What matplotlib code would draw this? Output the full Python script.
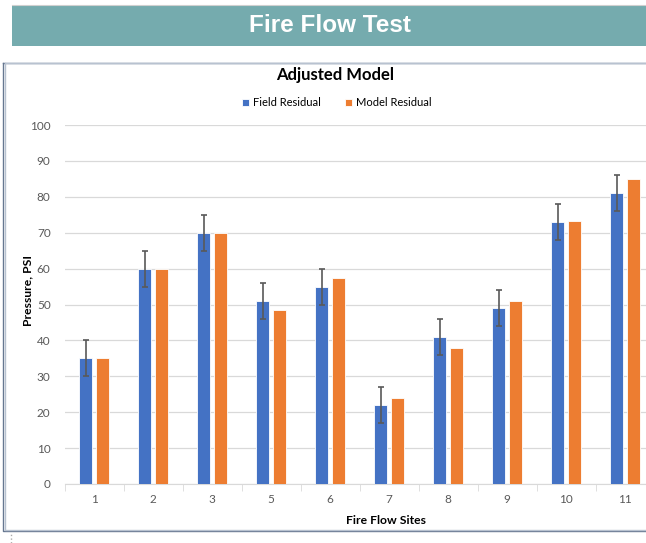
import matplotlib.pyplot as plt
import numpy as np
from matplotlib.patches import Rectangle
from matplotlib.lines import Line2D

sites = ['1', '2', '3', '5', '6', '7', '8', '9', '10', '11']
field_residual = [35, 60, 70, 51, 55, 22, 41, 49, 73, 81]
model_residual = [35, 60, 70, 48.5, 57.5, 24, 38, 51, 73.2, 85]
field_error = [5, 5, 5, 5, 5, 5, 5, 5, 5, 5]

BLUE = '#4472C4'
ORANGE = '#ED7D31'
GREY = '#595959'


def main():
    plt.rcParams['font.family'] = ['Lato', 'DejaVu Sans']
    fig = plt.figure(figsize=(6.46, 5.43), dpi=100)
    W, H = 646.0, 543.0

    # banner across the top
    fig.patches.append(Rectangle((12 / W, 1 - 46 / H), 1 - 12 / W, 41 / H,
                                 transform=fig.transFigure,
                                 facecolor='#75ABAE', edgecolor='none'))
    fig.lines.append(Line2D([12 / W, 1], [1 - 5 / H, 1 - 5 / H],
                            transform=fig.transFigure, color='#d0d0d0', lw=0.8))
    fig.text(330 / W, 1 - 26 / H, 'Fire Flow Test', color='white',
             fontsize=17.5, fontweight='bold', family='Liberation Sans',
             ha='center', va='center')

    # chart frame
    for off, col in [(0, '#667790'), (1.5, '#b8c2d0')]:
        fig.lines.append(Line2D([(3 + off) / W, (3 + off) / W, 1],
                                [1 - 63 / H, 1 - (531 - off) / H, 1 - (531 - off) / H],
                                transform=fig.transFigure, color=col, lw=1.0))
        fig.lines.append(Line2D([(3 + off) / W, 1], [1 - 63 / H, 1 - 63 / H],
                                transform=fig.transFigure, color=col, lw=1.0))
    fig.lines.append(Line2D([11 / W, 11 / W], [0, 1 - 533 / H],
                            transform=fig.transFigure, color='#aaaaaa',
                            lw=1.0, ls=':'))

    ax = fig.add_axes([64.5 / W, 1 - 484 / H, 590 / W, 359 / H])
    x = np.arange(len(sites))
    w = 0.23
    ax.bar(x - 0.142, field_residual, w, color=BLUE, edgecolor='white',
           linewidth=0.6, yerr=field_error,
           error_kw=dict(ecolor=GREY, elinewidth=1.2, capsize=2.5, capthick=1.2),
           label='Field Residual', zorder=3)
    ax.bar(x + 0.142, model_residual, w, color=ORANGE, edgecolor='white',
           linewidth=0.6, label='Model Residual', zorder=3)

    ax.set_xlim(-0.5, len(sites) - 0.5)
    ax.set_ylim(0, 100)
    ax.set_yticks(range(0, 101, 10))
    ax.set_xticks(x)
    ax.set_xticklabels(sites)
    ax.set_xticks(np.arange(-0.5, len(sites), 1), minor=True)
    ax.tick_params(axis='x', which='major', length=0, pad=7, labelsize=8.5,
                   colors=GREY)
    ax.tick_params(axis='x', which='minor', length=5, color='#d9d9d9')
    ax.tick_params(axis='y', length=0, pad=10, labelsize=8.5, colors=GREY)
    ax.grid(axis='y', color='#d9d9d9', lw=0.9, zorder=0)
    for s in ['top', 'right', 'left']:
        ax.spines[s].set_visible(False)
    ax.spines['bottom'].set_color('#d9d9d9')

    fig.text(335 / W, 1 - 75 / H, 'Adjusted Model', fontsize=12,
             fontweight='bold', ha='center', va='center')
    fig.text(386 / W, 1 - 521 / H, 'Fire Flow Sites', fontsize=8.7,
             fontweight='bold', ha='center', va='center')
    fig.text(28 / W, 1 - 290 / H, 'Pressure, PSI', fontsize=8.7,
             fontweight='bold', ha='center', va='center', rotation=90)

    fig.legend(loc='center', bbox_to_anchor=(337 / W, 1 - 103 / H), ncol=2,
               frameon=False, fontsize=8, handlelength=0.6,
               handleheight=0.6, handletextpad=0.4, columnspacing=2.2)

    fig.savefig('out.png', dpi=100)


if __name__ == '__main__':
    main()
